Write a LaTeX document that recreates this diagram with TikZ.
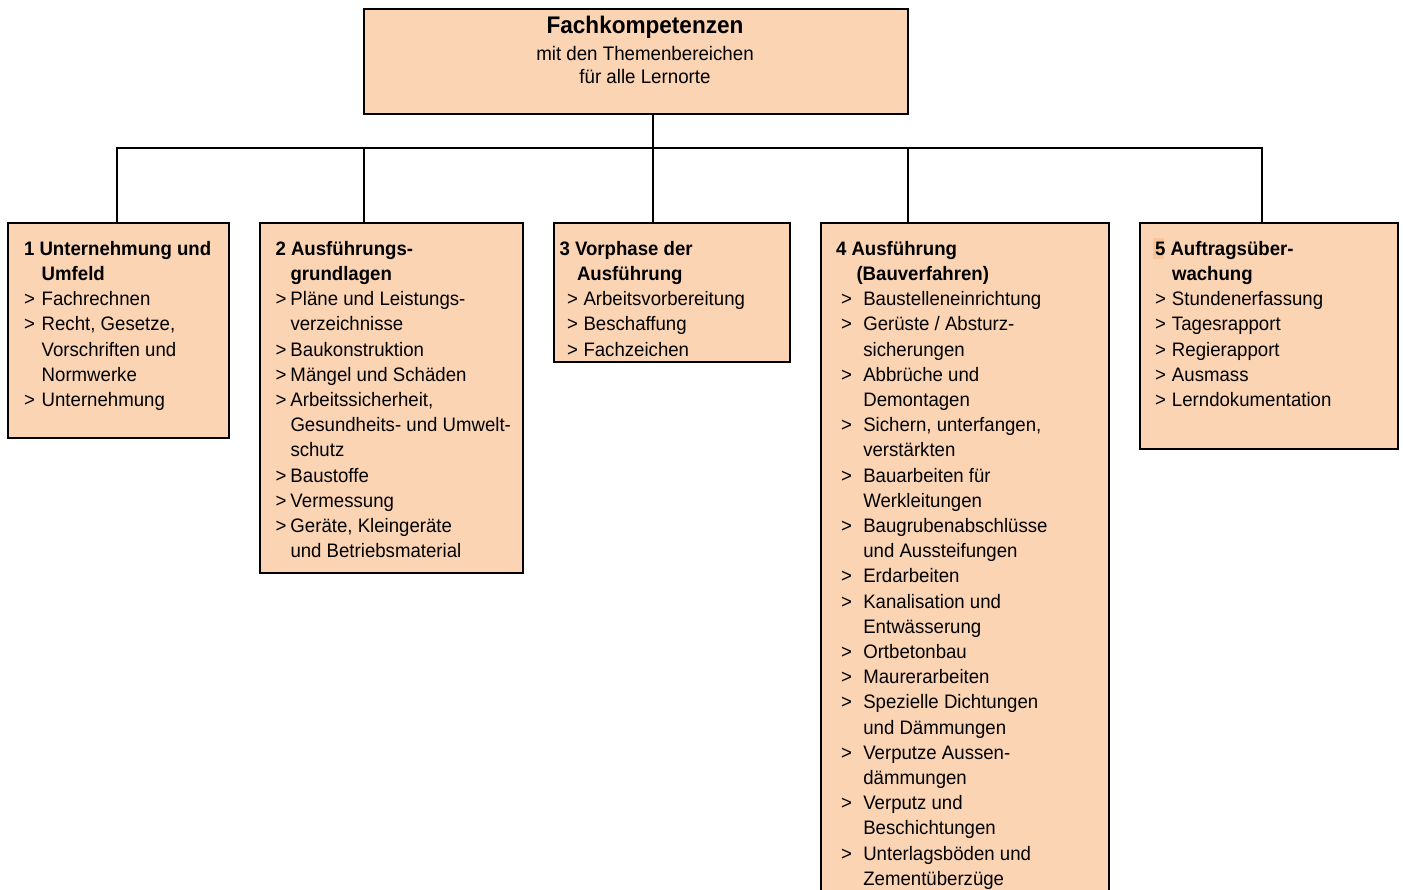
\documentclass[tikz,border=0pt]{standalone}
\usepackage{fontspec}
\setmainfont{Liberation Sans}[FakeStretch=0.955]
\newfontfamily\titlefont{Liberation Sans}[FakeStretch=0.94]
\definecolor{peach}{RGB}{251,212,180}
\definecolor{peachdark}{RGB}{249,197,155}
\newcommand\gtmark[2]{\makebox[#2][l]{\hspace*{#1}>}}
\begin{document}
\begin{tikzpicture}[x=1pt,y=-1pt,
  box/.style={draw=black, line width=2pt, fill=peach, rectangle, anchor=north west, inner sep=0pt, outer sep=0pt},
  txt/.style={anchor=north west, inner sep=0pt, outer sep=0pt, font=\fontsize{19.5}{25.2}\selectfont},
  toptxt/.style={anchor=base, inner sep=0pt, outer sep=0pt},
  conn/.style={line width=2pt}]
\useasboundingbox (0,0) rectangle (1403,890);
\clip (0,0) rectangle (1403,890);

% boxes
\node[box, minimum width=544pt, minimum height=105pt] (top) at (364,9) {};
\node[box, minimum width=221pt, minimum height=215pt] (b1) at (8,223) {};
\node[box, minimum width=263pt, minimum height=350pt] (b2) at (260,223) {};
\node[box, minimum width=236pt, minimum height=139pt] (b3) at (554,223) {};
\node[box, minimum width=288pt, minimum height=680pt] (b4) at (821,223) {};
\node[box, minimum width=258pt, minimum height=226pt] (b5) at (1140,223) {};

% connectors
\coordinate (j1) at (117,148);
\coordinate (j2) at (364,148);
\coordinate (j3) at (653,148);
\coordinate (j4) at (908,148);
\coordinate (j5) at (1262,148);
\draw[conn] (top.south -| j3) -- (j3);
\draw[conn] (j1 |- b1.north) -- (j1) -- (j5) -- (j5 |- b5.north);
\draw[conn] (j2) -- (j2 |- b2.north);
\draw[conn] (j3) -- (j3 |- b3.north);
\draw[conn] (j4) -- (j4 |- b4.north);

% top texts
\node[toptxt, font=\titlefont\bfseries\fontsize{24}{28}\selectfont] (ttl) at (645,33.5) {Fachkompetenzen};
\node[toptxt, font=\fontsize{19.6}{22}\selectfont] (sub1) at (645,60.5) {mit den Themenbereichen};
\node[toptxt, font=\fontsize{19.6}{22}\selectfont] (sub2) at (645,84) {für alle Lernorte};

% box 1
\node[txt] (t1) at (24,237.6) {\begin{tabular}{@{}l@{}l@{}}
\multicolumn{2}{@{}l@{}}{\bfseries 1 Unternehmung und}\\
\hspace*{17.7pt} & \bfseries Umfeld\\
\gtmark{0pt}{17.7pt} & Fachrechnen\\
\gtmark{0pt}{17.7pt} & Recht, Gesetze,\\
 & Vorschriften und\\
 & Normwerke\\
\gtmark{0pt}{17.7pt} & Unternehmung
\end{tabular}};

% box 2
\node[txt] (t2) at (275.5,237.6) {\begin{tabular}{@{}l@{}l@{}}
\multicolumn{2}{@{}l@{}}{\bfseries 2 Ausführungs-}\\
\hspace*{15pt} & \bfseries grundlagen\\
\gtmark{0pt}{15pt} & Pläne und Leistungs-\\
 & verzeichnisse\\
\gtmark{0pt}{15pt} & Baukonstruktion\\
\gtmark{0pt}{15pt} & Mängel und Schäden\\
\gtmark{0pt}{15pt} & Arbeitssicherheit,\\
 & Gesundheits- und Umwelt-\\
 & schutz\\
\gtmark{0pt}{15pt} & Baustoffe\\
\gtmark{0pt}{15pt} & Vermessung\\
\gtmark{0pt}{15pt} & Geräte, Kleingeräte\\
 & und Betriebsmaterial
\end{tabular}};

% box 3
\node[txt] (t3) at (559.5,237.6) {\begin{tabular}{@{}l@{}l@{}}
\multicolumn{2}{@{}l@{}}{\bfseries 3 Vorphase der}\\
\multicolumn{2}{@{}l@{}}{\hspace*{17.5pt}\bfseries Ausführung}\\
\gtmark{7.5pt}{24pt} & Arbeitsvorbereitung\\
\gtmark{7.5pt}{24pt} & Beschaffung\\
\gtmark{7.5pt}{24pt} & Fachzeichen
\end{tabular}};

% box 4
\node[txt] (t4) at (836,237.6) {\begin{tabular}{@{}l@{}l@{}}
\multicolumn{2}{@{}l@{}}{\bfseries 4 Ausführung}\\
\multicolumn{2}{@{}l@{}}{\hspace*{20.5pt}\bfseries (Bauverfahren)}\\
\gtmark{5pt}{27.3pt} & Baustelleneinrichtung\\
\gtmark{5pt}{27.3pt} & Gerüste / Absturz-\\
 & sicherungen\\
\gtmark{5pt}{27.3pt} & Abbrüche und\\
 & Demontagen\\
\gtmark{5pt}{27.3pt} & Sichern, unterfangen,\\
 & verstärkten\\
\gtmark{5pt}{27.3pt} & Bauarbeiten für\\
 & Werkleitungen\\
\gtmark{5pt}{27.3pt} & Baugrubenabschlüsse\\
 & und Aussteifungen\\
\gtmark{5pt}{27.3pt} & Erdarbeiten\\
\gtmark{5pt}{27.3pt} & Kanalisation und\\
 & Entwässerung\\
\gtmark{5pt}{27.3pt} & Ortbetonbau\\
\gtmark{5pt}{27.3pt} & Maurerarbeiten\\
\gtmark{5pt}{27.3pt} & Spezielle Dichtungen\\
 & und Dämmungen\\
\gtmark{5pt}{27.3pt} & Verputze Aussen-\\
 & dämmungen\\
\gtmark{5pt}{27.3pt} & Verputz und\\
 & Beschichtungen\\
\gtmark{5pt}{27.3pt} & Unterlagsböden und\\
 & Zementüberzüge
\end{tabular}};

% box 5
\fill[peachdark] (1153.3,238) rectangle (1163.5,259);
\node[txt] (t5) at (1155,237.6) {\begin{tabular}{@{}l@{}l@{}}
\multicolumn{2}{@{}l@{}}{\bfseries 5 Auftragsüber-}\\
\hspace*{16.7pt} & \bfseries wachung\\
\gtmark{0pt}{17pt} & Stundenerfassung\\
\gtmark{0pt}{17pt} & Tagesrapport\\
\gtmark{0pt}{17pt} & Regierapport\\
\gtmark{0pt}{17pt} & Ausmass\\
\gtmark{0pt}{17pt} & Lerndokumentation
\end{tabular}};
\end{tikzpicture}
\end{document}
